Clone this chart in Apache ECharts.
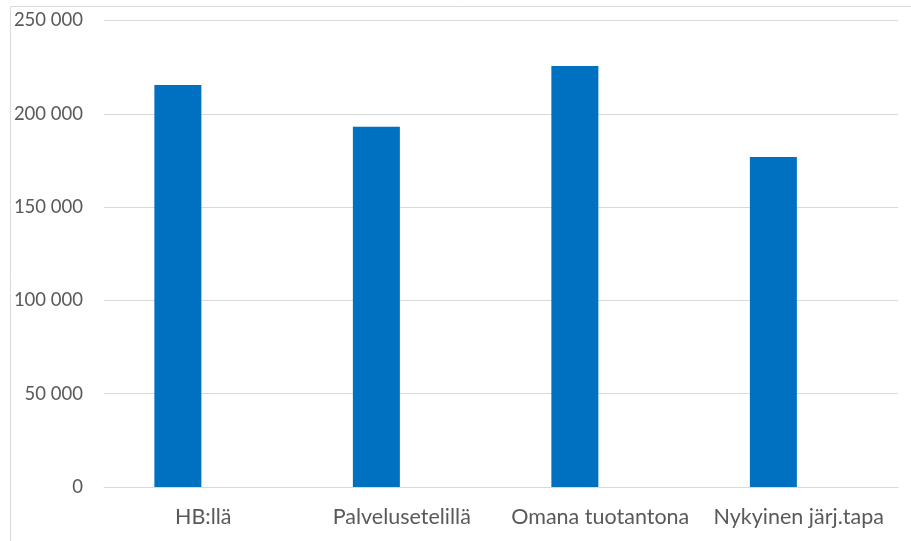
<!DOCTYPE html>
<html>
<head>
<meta charset="utf-8">
<script src="https://cdn.jsdelivr.net/npm/echarts@6/dist/echarts.min.js"></script>
<style>
  html, body { margin: 0; padding: 0; background: #fff; }
  #chart { width: 911px; height: 541px; }
</style>
</head>
<body>
<div id="chart"></div>
<script>
// kustannukset vaihtoehdoittain
const categories = ["HB:llä", "Palvelusetelillä", "Omana tuotantona", "Nykyinen järj.tapa"];
const values = [215500, 193000, 225600, 176900];
const emptySeries = [null, null, null, null]; // Excel-kaavion tyhjä toinen sarja
const yMin = 0;
const yMax = 250000;
const yStep = 50000;

const myChart = echarts.init(document.getElementById("chart"));

const option = {
  animation: false,
  graphic: [
    {
      // kaavion reunus
      type: "rect",
      shape: { x: 10.5, y: 6.5, width: 1200, height: 1200 },
      style: { fill: "none", stroke: "#d9d9d9", lineWidth: 1 },
      silent: true,
    },
  ],
  grid: {
    left: 104,
    right: 13,
    top: 20.5,
    bottom: 54,
  },
  xAxis: {
    type: "category",
    data: categories,
    axisTick: { show: false },
    axisLine: { lineStyle: { color: "#d9d9d9", width: 1 } },
    axisLabel: {
      margin: 19,
      interval: 0,
      color: "#595959",
      fontFamily: "Lato",
      fontSize: 21.5,
    },
  },
  yAxis: {
    type: "value",
    min: yMin,
    max: yMax,
    interval: yStep,
    axisLine: { show: false },
    axisTick: { show: false },
    splitLine: { lineStyle: { color: "#d9d9d9", width: 1 } },
    axisLabel: {
      margin: 21,
      color: "#595959",
      fontFamily: "Lato",
      fontSize: 18.5,
      formatter: (v) => String(v).replace(/\B(?=(\d{3})+(?!\d))/g, " "),
    },
  },
  series: [
    {
      type: "bar",
      data: values,
      barWidth: 47,
      barGap: "8%",
      itemStyle: { color: "#0070c0" },
    },
    {
      type: "bar",
      data: emptySeries,
      barWidth: 47,
    },
  ],
};

myChart.setOption(option);
</script>
</body>
</html>
